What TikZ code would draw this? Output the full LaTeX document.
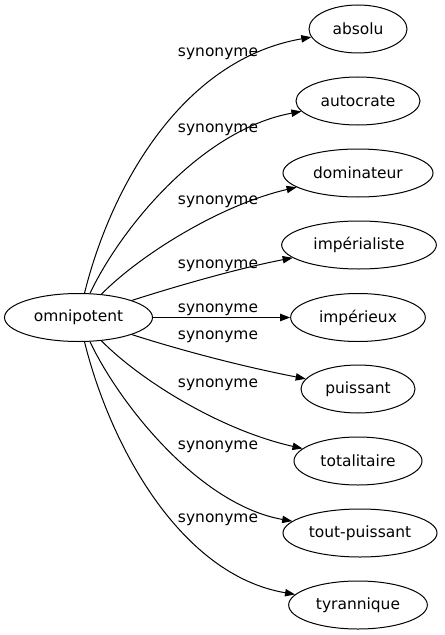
\documentclass[tikz,border=0pt]{standalone}
\usepackage{fontspec}
\setmainfont{DejaVu Sans}
\usetikzlibrary{shapes.geometric,arrows.meta}
\begin{document}
\begin{tikzpicture}[x=0.75pt,y=-0.75pt,
  word/.style={ellipse,draw,line width=0.75pt,inner sep=0pt,minimum height=36pt,font=\fontsize{11.6}{13}\selectfont},
  syn/.style={font=\fontsize{11.6}{13}\selectfont,inner sep=0pt,anchor=base},
  link/.style={line width=0.75pt,-{Triangle[length=7.5pt,width=5.5pt]}}]
\useasboundingbox (0,0) rectangle (445,635);
\node[word,minimum width=111pt] (o) at (78.5,317.5) {omnipotent};
\node[word,minimum width=73.5pt] (t1) at (358,29) {absolu};
\node[word,minimum width=93pt] (t2) at (358,101) {autocrate};
\node[word,minimum width=112.5pt] (t3) at (358,173) {dominateur};
\node[word,minimum width=116pt] (t4) at (359,245) {impérialiste};
\node[word,minimum width=101pt] (t5) at (358,317.5) {impérieux};
\node[word,minimum width=85.5pt] (t6) at (358,389) {puissant};
\node[word,minimum width=96pt] (t7) at (358,461) {totalitaire};
\node[word,minimum width=115.5pt] (t8) at (360,533) {tout-puissant};
\node[word,minimum width=104pt] (t9) at (358,605) {tyrannique};
\draw[link] (o) .. controls (110,190) and (180,60) .. (t1);
\draw[link] (o) .. controls (120,230) and (200,130) .. (t2);
\draw[link] (o) .. controls (140,255) and (220,205) .. (t3);
\draw[link] (o) .. controls (180,285) and (240,268) .. (t4);
\draw[link] (o) -- (t5);
\draw[link] (o) .. controls (180,350) and (240,366) .. (t6);
\draw[link] (o) .. controls (140,380) and (220,430) .. (t7);
\draw[link] (o) .. controls (120,405) and (200,505) .. (t8);
\draw[link] (o) .. controls (110,445) and (180,575) .. (t9);
\node[syn] (l1) at (218,57) {synonyme};
\node[syn] (l2) at (218,132) {synonyme};
\node[syn] (l3) at (218,204) {synonyme};
\node[syn] (l4) at (218,268) {synonyme};
\node[syn] (l5) at (218,312) {synonyme};
\node[syn] (l6) at (218,339) {synonyme};
\node[syn] (l7) at (218,387) {synonyme};
\node[syn] (l8) at (218,449) {synonyme};
\node[syn] (l9) at (218,522) {synonyme};
\end{tikzpicture}
\end{document}
